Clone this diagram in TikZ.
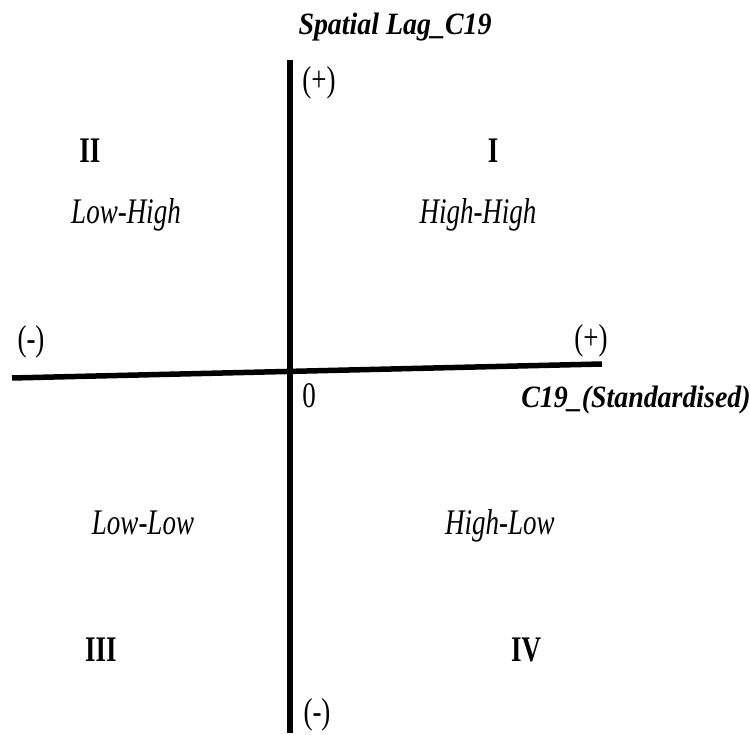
\documentclass[tikz,border=0pt]{standalone}
\usepackage{fontspec}
\setmainfont{Liberation Serif}
\newcommand{\qrg}[1]{\scalebox{0.75}[1]{\fontsize{36}{40}\selectfont #1}}
\newcommand{\qit}[1]{\scalebox{0.75}[1]{\fontsize{36}{40}\selectfont\itshape #1}}
\newcommand{\qbd}[1]{\scalebox{0.75}[1]{\fontsize{36}{40}\selectfont\bfseries #1}}
\newcommand{\qax}[1]{\scalebox{0.9}[1]{\fontsize{31}{36}\selectfont\bfseries\itshape #1}}
\begin{document}
\begin{tikzpicture}[x=1pt,y=1pt,
  lbl/.style={inner sep=0pt,anchor=base},
  axisline/.style={line width=5.5pt,black}]
\useasboundingbox (0,0) rectangle (750,734);
% axes
\coordinate (vt) at (290,674);
\coordinate (vb) at (290,1);
\coordinate (hl) at (12,356);
\coordinate (hr) at (602,370);
\draw[axisline] (vt) -- (vb);
\draw[axisline] (hl) -- (hr);
% axis labels
\node[lbl] (ylab) at (395,699) {\qax{Spatial Lag\_C19}};
\node[lbl] (xlab) at (636,326) {\qax{C19\_(Standardised)}};
\node[lbl] (ypos) at (319,642) {\qrg{(+)}};
\node[lbl] (yneg) at (317,10) {\qrg{(-)}};
\node[lbl] (xneg) at (31,383) {\qrg{(-)}};
\node[lbl] (xpos) at (591,384) {\qrg{(+)}};
\node[lbl] (zero) at (309,326) {\qrg{0}};
% quadrants
\node[lbl] (q2) at (90,571) {\qbd{II}};
\node[lbl] (q1) at (493,571) {\qbd{I}};
\node[lbl] (q3) at (101,72) {\qbd{III}};
\node[lbl] (q4) at (526,72) {\qbd{IV}};
\node[lbl] (lh) at (126,510) {\qit{Low-High}};
\node[lbl] (hh) at (478,510) {\qit{High-High}};
\node[lbl] (ll) at (143,199) {\qit{Low-Low}};
\node[lbl] (hlw) at (500,199) {\qit{High-Low}};
\end{tikzpicture}
\end{document}
